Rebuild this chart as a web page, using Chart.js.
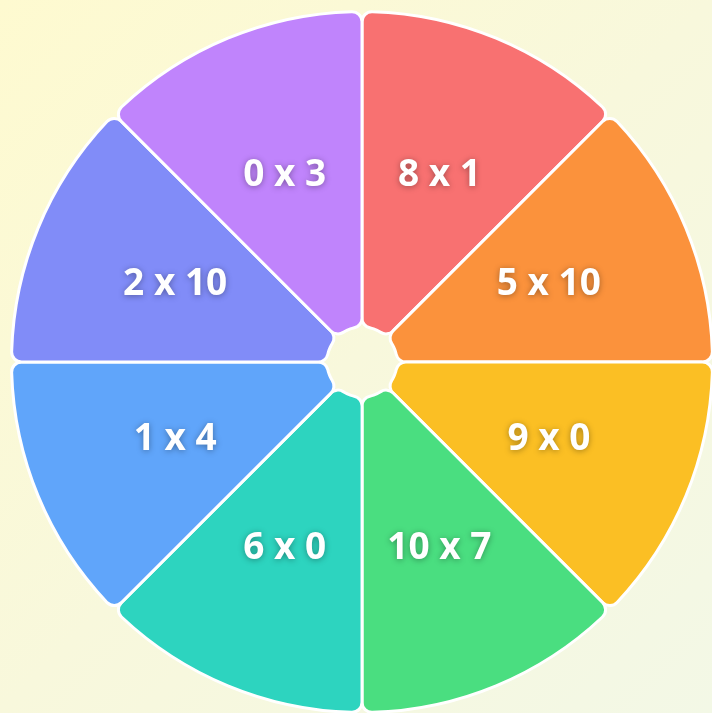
<!DOCTYPE html>
<html>
<head>
<meta charset="utf-8">
<script src="https://cdn.jsdelivr.net/npm/chart.js@4"></script>
<style>
    html, body {
        margin: 0;
        padding: 0;
        width: 712px;
        height: 713px;
        overflow: hidden;
        background: linear-gradient(135deg, #fefad0 0%, #f8f8dc 50%, #f3f8e6 100%);
    }
    #wrap {
        position: absolute;
        left: 0;
        top: 0;
        width: 724px;
        height: 724px;
    }
</style>
</head>
<body>
<div id="wrap"><canvas id="chart"></canvas></div>
<script>
const categories = ['8 x 1', '5 x 10', '9 x 0', '10 x 7', '6 x 0', '1 x 4', '2 x 10', '0 x 3'];
const values = [1, 1, 1, 1, 1, 1, 1, 1];
const colors = ['#f87171', '#fb923c', '#fbbf24', '#4ade80', '#2dd4bf', '#60a5fa', '#818cf8', '#c084fc'];

// draws the slice labels in white with a soft shadow
const sliceLabels = {
    id: 'sliceLabels',
    afterDatasetsDraw(chart) {
        const ctx = chart.ctx;
        const meta = chart.getDatasetMeta(0);
        ctx.save();
        ctx.font = '700 37px "Open Sans"';
        ctx.fillStyle = '#ffffff';
        ctx.textAlign = 'center';
        ctx.textBaseline = 'middle';
        ctx.shadowColor = 'rgba(0, 0, 0, 0.35)';
        ctx.shadowBlur = 6;
        ctx.shadowOffsetY = 1;
        meta.data.forEach((arc, i) => {
            const p = arc.getProps(['x', 'y', 'startAngle', 'endAngle', 'outerRadius'], true);
            const mid = (p.startAngle + p.endAngle) / 2;
            const r = p.outerRadius * 0.577;
            ctx.fillText(categories[i], p.x + Math.cos(mid) * r, p.y + Math.sin(mid) * r);
        });
        ctx.restore();
    }
};

window.onload = () => {
    const ctx = document.getElementById('chart');

    new Chart(ctx, {
        type: 'doughnut',
        data: {
            labels: categories,
            datasets: [
                {
                    data: values,
                    backgroundColor: colors,
                    borderColor: '#ffffff',
                    borderWidth: 3,
                    borderRadius: 10,
                    hoverOffset: 0
                }
            ]
        },
        options: {
            responsive: true,
            maintainAspectRatio: false,
            animation: false,
            cutout: '10%',
            layout: {
                padding: 10
            },
            plugins: {
                legend: { display: false },
                tooltip: { enabled: false }
            }
        },
        plugins: [sliceLabels]
    });
}
</script>
</body>
</html>
